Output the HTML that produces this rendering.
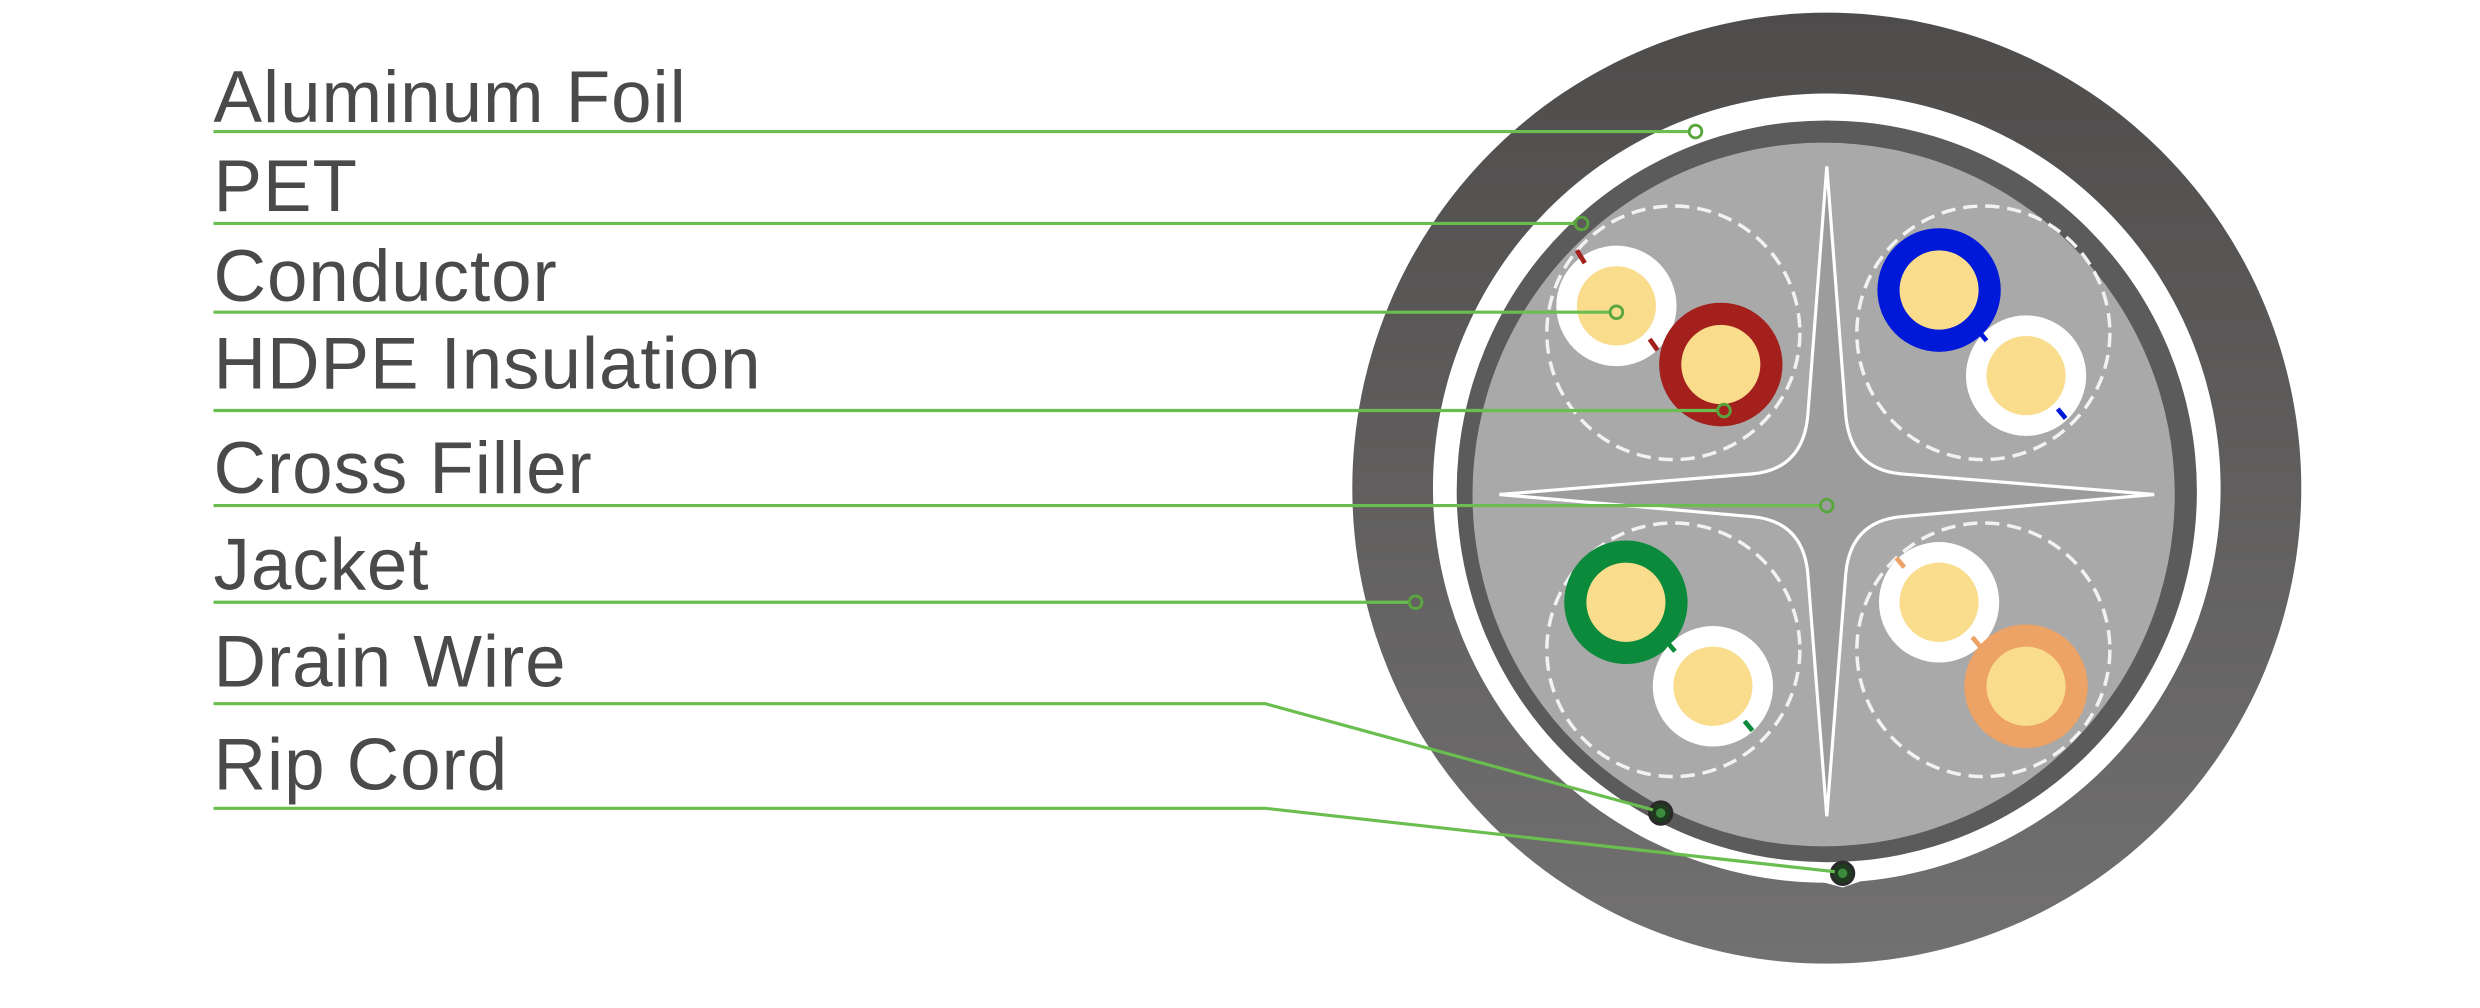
<!DOCTYPE html>
<html><head><meta charset="utf-8"><style>
html,body{margin:0;padding:0;background:#fff;}
svg{display:block;}
</style></head><body>
<svg width="2480" height="1008" viewBox="0 0 1568 636" preserveAspectRatio="none" xmlns="http://www.w3.org/2000/svg">
<defs>
<linearGradient id="jk" x1="0" y1="0" x2="0" y2="1">
<stop offset="0" stop-color="#4e4c4b"/><stop offset="1" stop-color="#727171"/>
</linearGradient>
</defs>
<rect width="1568" height="636" fill="#fff"/>
<!-- cable -->
<circle cx="1155" cy="308" r="300" fill="url(#jk)"/>
<circle cx="1155" cy="308" r="249" fill="#fff"/>
<polygon points="1120,548 1165,560 1200,548" fill="#fff"/>
<circle cx="1155" cy="310" r="234" fill="#5c5b5b"/>
<circle cx="1153" cy="312" r="222" fill="#a9a9a9"/>
<!-- dashed pair circles -->
<g fill="none" stroke="#f2f2f2" stroke-width="2.2" stroke-dasharray="9,5">
<circle cx="1058" cy="210" r="80"/>
<circle cx="1254" cy="210" r="80"/>
<circle cx="1058" cy="410" r="80"/>
<circle cx="1254" cy="410" r="80"/>
</g>
<!-- cross filler -->
<path d="M1155,105 L1143,262 Q1140,296 1108,299 L948,312 L1108,326 Q1140,329 1143,362 L1155,515 L1167,362 Q1170,329 1202,326 L1362,312 L1202,299 Q1170,296 1167,262 Z" fill="#9c9c9c" stroke="#fff" stroke-width="2"/>
<!-- wires -->
<g>
<circle cx="1022" cy="193" r="38" fill="#fff"/><circle cx="1022" cy="193" r="25" fill="#f9dc8c"/>
<circle cx="1088" cy="230" r="39" fill="#a3201d"/><circle cx="1088" cy="230" r="25" fill="#f9dc8c"/>
<line x1="997" y1="158" x2="1002" y2="166" stroke="#a3201d" stroke-width="3"/>
<line x1="1043" y1="214" x2="1048" y2="221" stroke="#a3201d" stroke-width="3"/>

<circle cx="1226" cy="183" r="39" fill="#0018d8"/><circle cx="1226" cy="183" r="25" fill="#f9dc8c"/>
<circle cx="1281" cy="237" r="38" fill="#fff"/><circle cx="1281" cy="237" r="25" fill="#f9dc8c"/>
<line x1="1251" y1="209" x2="1256" y2="215" stroke="#0018d8" stroke-width="3"/>
<line x1="1301" y1="258" x2="1306" y2="264" stroke="#0018d8" stroke-width="3"/>

<circle cx="1028" cy="380" r="39" fill="#0a8a3a"/><circle cx="1028" cy="380" r="25" fill="#f9dc8c"/>
<circle cx="1083" cy="433" r="38" fill="#fff"/><circle cx="1083" cy="433" r="25" fill="#f9dc8c"/>
<line x1="1054" y1="405" x2="1059" y2="411" stroke="#0a8a3a" stroke-width="3"/>
<line x1="1103" y1="455" x2="1108" y2="461" stroke="#0a8a3a" stroke-width="3"/>

<circle cx="1226" cy="380" r="38" fill="#fff"/><circle cx="1226" cy="380" r="25" fill="#f9dc8c"/>
<circle cx="1281" cy="433" r="39" fill="#eda266"/><circle cx="1281" cy="433" r="25" fill="#f9dc8c"/>
<line x1="1199" y1="352" x2="1204" y2="358" stroke="#eda266" stroke-width="3"/>
<line x1="1247" y1="402" x2="1252" y2="408" stroke="#eda266" stroke-width="3"/>
</g>
<!-- drain & rip -->
<circle cx="1050" cy="513" r="7" fill="#1f3a1f" stroke="#2a2a2a" stroke-width="2"/>
<circle cx="1050" cy="513" r="3" fill="#3c8a3c"/>
<circle cx="1165" cy="551" r="7" fill="#1f3a1f" stroke="#2a2a2a" stroke-width="2"/>
<circle cx="1165" cy="551" r="3" fill="#3c8a3c"/>
<!-- leader lines -->
<g fill="none" stroke="#6abd4f" stroke-width="2">
<polyline points="135,83 1068,83"/>
<polyline points="135,141 996,141"/>
<polyline points="135,197 1018,197"/>
<polyline points="135,259 1086,259"/>
<polyline points="135,319 1151,319"/>
<polyline points="135,380 891,380"/>
<polyline points="135,444 800,444 1045,511"/>
<polyline points="135,510 800,510 1160,550"/>
</g>
<g fill="none" stroke="#5aa63e" stroke-width="1.8">
<circle cx="1072" cy="83" r="4"/>
<circle cx="1000" cy="141" r="4"/>
<circle cx="1022" cy="197" r="4"/>
<circle cx="1090" cy="259" r="4"/>
<circle cx="1155" cy="319" r="4"/>
<circle cx="895" cy="380" r="4"/>
</g>
<!-- labels -->
<g font-family="'Liberation Sans', Arial, sans-serif" font-size="46" fill="#4a4a4a" letter-spacing="0.6">
<text x="135" y="77">Aluminum Foil</text>
<text x="135" y="133">PET</text>
<text x="135" y="190">Conductor</text>
<text x="135" y="245">HDPE Insulation</text>
<text x="135" y="311">Cross Filler</text>
<text x="135" y="372">Jacket</text>
<text x="135" y="433">Drain Wire</text>
<text x="135" y="498">Rip Cord</text>
</g>
</svg>
</body></html>
